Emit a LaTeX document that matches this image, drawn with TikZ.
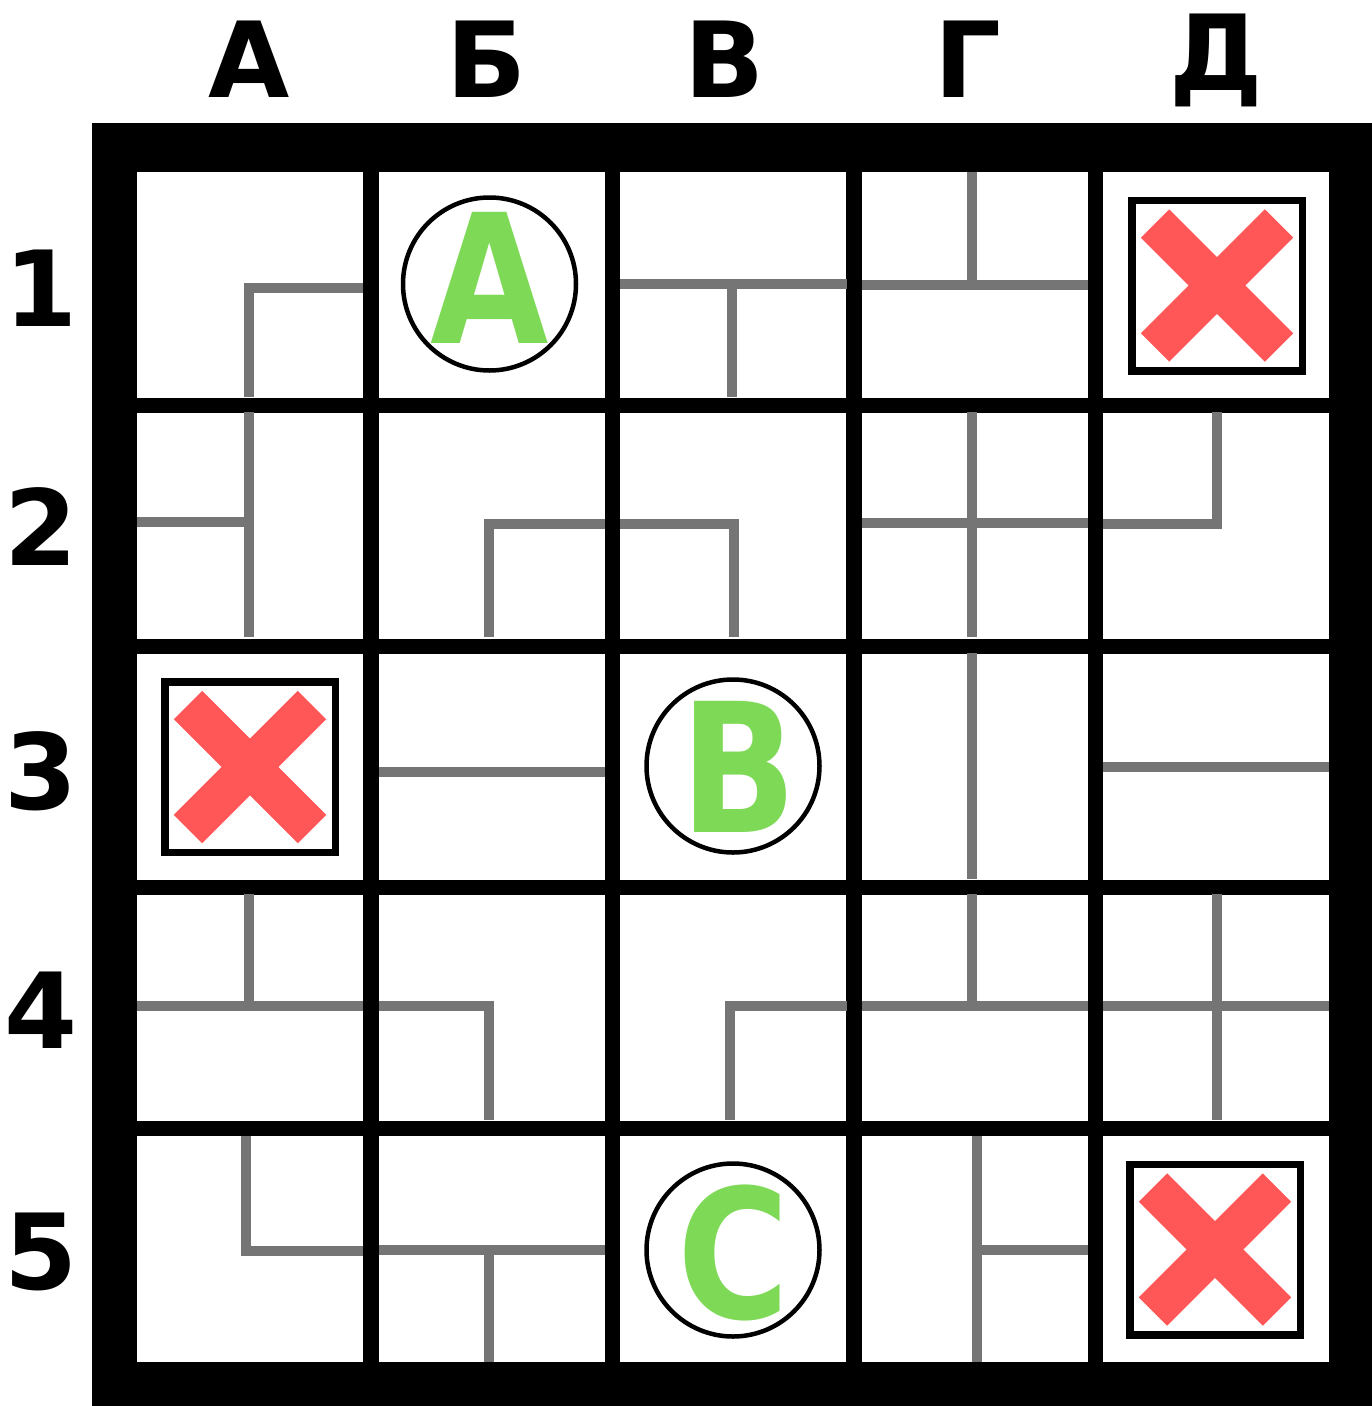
\documentclass[tikz,border=0pt]{standalone}
\usepackage{fontspec}
\setmainfont{DejaVu Sans}
\definecolor{pipegray}{HTML}{757575}
\definecolor{crossred}{HTML}{FF5757}
\definecolor{goalgreen}{HTML}{7ED957}

\begin{document}
\begin{tikzpicture}[
    x=1pt, y=-1pt,
    pipe/.style={draw=pipegray, line width=10pt},
    ring/.style={circle, draw, line width=4.5pt, minimum size=173pt, inner sep=0pt},
    goal/.style={text=goalgreen, font=\fontsize{180}{180}\selectfont\bfseries,
        xscale=0.85, inner sep=0pt, anchor=base},
    collabel/.style={font=\fontsize{105}{105}\selectfont\bfseries, inner sep=0pt, anchor=base},
    rowlabel/.style={font=\fontsize{105}{105}\selectfont\bfseries, inner sep=0pt},
    stopbox/.style={draw, line width=7.5pt},
    cross/.style={draw=crossred, line width=40pt}
]

\useasboundingbox (0,0) rectangle (1372,1406);

% frame and cells
\fill (92,123) rectangle (1372,1406);
\foreach \i in {0,...,4}
    \foreach \j in {0,...,4}
        \fill[white] (137+241.5*\i,172+241*\j) rectangle ++(226,225.5);

% column and row labels
\foreach \name/\x/\y in {A/249/97,B/487/97,V/725/97,G/968/97,D/1216/90}
    \coordinate (col\name) at (\x,\y);
\node[collabel] (labA) at (colA) {А};
\node[collabel] (labB) at (colB) {Б};
\node[collabel] (labV) at (colV) {В};
\node[collabel] (labG) at (colG) {Г};
\node[collabel] (labD) at (colD) {Д};
\foreach \n/\y in {1/288,2/527,3/771,4/1010,5/1252}
    \node[rowlabel] (row\n) at (41,\y) {\n};

% pipes, row 1
\draw[pipe] (363,288) -- (249,288) -- (249,397);
\draw[pipe] (620,284) -- (847,284);
\draw[pipe] (732,284) -- (732,397);
\draw[pipe] (862,285) -- (1088,285);
\draw[pipe] (972,172) -- (972,285);
% row 2
\draw[pipe] (249,412) -- (249,637);
\draw[pipe] (137,522) -- (249,522);
\draw[pipe] (489,637) -- (489,524) -- (605,524);
\draw[pipe] (620,524) -- (734,524) -- (734,637);
\draw[pipe] (972,412) -- (972,637);
\draw[pipe] (862,523) -- (1088,523);
\draw[pipe] (1217,412) -- (1217,524) -- (1103,524);
% row 3
\draw[pipe] (379,772) -- (605,772);
\draw[pipe] (972,653) -- (972,879);
\draw[pipe] (1103,767) -- (1329,767);
% row 4
\draw[pipe] (249,894) -- (249,1006);
\draw[pipe] (137,1006) -- (363,1006);
\draw[pipe] (379,1006) -- (489,1006) -- (489,1120);
\draw[pipe] (847,1006) -- (730,1006) -- (730,1120);
\draw[pipe] (972,894) -- (972,1006);
\draw[pipe] (862,1006) -- (1088,1006);
\draw[pipe] (1217,894) -- (1217,1120);
\draw[pipe] (1103,1006) -- (1329,1006);
% row 5
\draw[pipe] (246,1136) -- (246,1251) -- (363,1251);
\draw[pipe] (379,1250) -- (605,1250);
\draw[pipe] (489,1250) -- (489,1362);
\draw[pipe] (977,1136) -- (977,1362);
\draw[pipe] (977,1250) -- (1088,1250);

% goals
\node[ring] (ringA) at (489.5,284) {};
\node[ring] (ringB) at (733,766) {};
\node[ring] (ringC) at (733,1250) {};
\node[goal] (goalA) at (490,343) {A};
\node[goal] (goalB) at (739,832) {B};
\node[goal] (goalC) at (734,1318) {C};

% blocked cells
\foreach \name/\x/\y in {D1/1217/285.5, A3/250/767, D5/1215/1249.5} {
    \coordinate (stop\name) at (\x,\y);
    \draw[stopbox] (stop\name) +(-85.25,-85.25) rectangle +(85.25,85.25);
    \draw[cross] (stop\name) +(-62,-62) -- +(62,62);
    \draw[cross] (stop\name) +(-62,62) -- +(62,-62);
}

\end{tikzpicture}
\end{document}
